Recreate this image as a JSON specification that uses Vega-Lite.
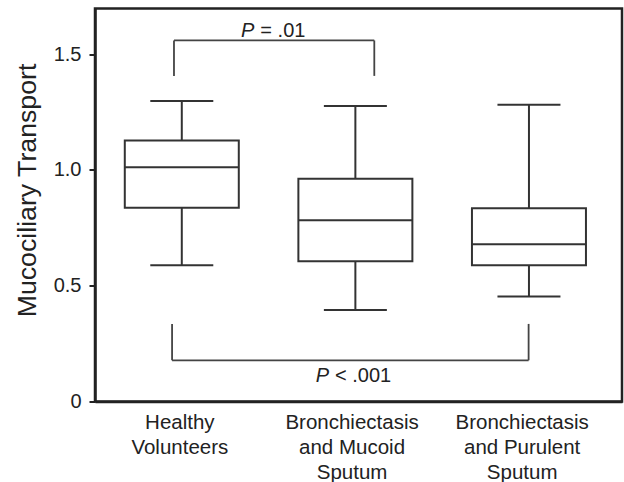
{
  "$schema": "https://vega.github.io/schema/vega-lite/v6.json",
  "width": 527,
  "height": 393,
  "autosize": "none",
  "padding": {"left": 95, "top": 8.5, "right": 2, "bottom": 80.5},
  "background": "white",
  "config": {
    "font": "Liberation Sans",
    "view": {"stroke": "#222", "strokeWidth": 2.5}
  },
  "datasets": {
    "boxes": [
      {"pos": 1, "group": "Healthy Volunteers", "lo": 0.588, "q1": 0.837, "med": 1.012, "q3": 1.127, "hi": 1.298},
      {"pos": 2, "group": "Bronchiectasis and Mucoid Sputum", "lo": 0.395, "q1": 0.606, "med": 0.783, "q3": 0.962, "hi": 1.276},
      {"pos": 3, "group": "Bronchiectasis and Purulent Sputum", "lo": 0.453, "q1": 0.588, "med": 0.679, "q3": 0.835, "hi": 1.281}
    ],
    "brackets": [
      {"x": 0.955, "x2": 0.955, "y": 1.406, "y2": 1.559},
      {"x": 2.109, "x2": 2.109, "y": 1.406, "y2": 1.559},
      {"x": 0.955, "x2": 2.109, "y": 1.559, "y2": 1.559},
      {"x": 0.944, "x2": 0.944, "y": 0.178, "y2": 0.335},
      {"x": 2.998, "x2": 2.998, "y": 0.178, "y2": 0.335},
      {"x": 0.944, "x2": 2.998, "y": 0.178, "y2": 0.178}
    ],
    "pLabels": [
      {"x": 1.418, "y": 1.576, "t": "P"},
      {"x": 1.848, "y": 0.086, "t": "P"}
    ],
    "restLabels": [
      {"x": 1.418, "y": 1.576, "t": "= .01"},
      {"x": 1.848, "y": 0.086, "t": "< .001"}
    ]
  },
  "layer": [
    {
      "data": {"name": "boxes"},
      "mark": {"type": "rule", "color": "#333", "strokeWidth": 2},
      "encoding": {
        "x": {
          "field": "pos", "type": "quantitative",
          "scale": {"domain": [0.5, 3.536], "nice": false, "zero": false},
          "axis": {
            "title": null,
            "values": [0.986, 1.978, 2.958],
            "labelExpr": "datum.value < 1.5 ? ['Healthy', 'Volunteers'] : datum.value < 2.5 ? ['Bronchiectasis', 'and Mucoid', 'Sputum'] : ['Bronchiectasis', 'and Purulent', 'Sputum']",
            "ticks": false,
            "grid": false,
            "domainColor": "#222",
            "domainWidth": 2.5,
            "labelFontSize": 20.5,
            "labelLineHeight": 25,
            "labelColor": "#222",
            "labelPadding": 11,
            "labelFlush": false,
            "labelOverlap": false,
            "labelAlign": "center"
          }
        },
        "y": {
          "field": "lo", "type": "quantitative",
          "scale": {"domain": [0, 1.697], "nice": false},
          "axis": {
            "title": "Mucociliary Transport",
            "values": [0, 0.5, 1.0, 1.5],
            "labelExpr": "datum.value == 0 ? '0' : format(datum.value, '.1f')",
            "grid": false,
            "domainColor": "#222",
            "domainWidth": 2.5,
            "tickColor": "#222",
            "tickWidth": 2,
            "tickSize": 6,
            "labelFontSize": 20,
            "labelColor": "#222",
            "labelPadding": 8,
            "titleFontSize": 26.7,
            "titleFontWeight": "normal",
            "titleColor": "#222",
            "titleAngle": -90,
            "titleAlign": "center",
            "titleBaseline": "alphabetic",
            "titleX": -60,
            "titleY": 181.5
          }
        },
        "y2": {"field": "q1"}
      }
    },
    {
      "data": {"name": "boxes"},
      "mark": {"type": "rule", "color": "#333", "strokeWidth": 2},
      "encoding": {
        "x": {"field": "pos", "type": "quantitative"},
        "y": {"field": "q3", "type": "quantitative"},
        "y2": {"field": "hi"}
      }
    },
    {
      "data": {"name": "boxes"},
      "mark": {"type": "rule", "color": "#333", "strokeWidth": 2, "xOffset": -31.5, "x2Offset": 31.5},
      "encoding": {
        "x": {"field": "pos", "type": "quantitative"},
        "x2": {"field": "pos"},
        "y": {"field": "lo", "type": "quantitative"}
      }
    },
    {
      "data": {"name": "boxes"},
      "mark": {"type": "rule", "color": "#333", "strokeWidth": 2, "xOffset": -31.5, "x2Offset": 31.5},
      "encoding": {
        "x": {"field": "pos", "type": "quantitative"},
        "x2": {"field": "pos"},
        "y": {"field": "hi", "type": "quantitative"}
      }
    },
    {
      "data": {"name": "boxes"},
      "mark": {"type": "rect", "fill": "white", "stroke": "#333", "strokeWidth": 2, "xOffset": -57, "x2Offset": 57},
      "encoding": {
        "x": {"field": "pos", "type": "quantitative"},
        "x2": {"field": "pos"},
        "y": {"field": "q1", "type": "quantitative"},
        "y2": {"field": "q3"}
      }
    },
    {
      "data": {"name": "boxes"},
      "mark": {"type": "rule", "color": "#333", "strokeWidth": 2, "xOffset": -57, "x2Offset": 57},
      "encoding": {
        "x": {"field": "pos", "type": "quantitative"},
        "x2": {"field": "pos"},
        "y": {"field": "med", "type": "quantitative"}
      }
    },
    {
      "data": {"name": "brackets"},
      "mark": {"type": "rule", "color": "#444", "strokeWidth": 1.8},
      "encoding": {
        "x": {"field": "x", "type": "quantitative"},
        "x2": {"field": "x2"},
        "y": {"field": "y", "type": "quantitative"},
        "y2": {"field": "y2"}
      }
    },
    {
      "data": {"name": "pLabels"},
      "mark": {"type": "text", "fontSize": 20, "fontStyle": "italic", "color": "#222", "align": "right", "baseline": "alphabetic", "dx": 0},
      "encoding": {
        "x": {"field": "x", "type": "quantitative"},
        "y": {"field": "y", "type": "quantitative"},
        "text": {"field": "t"}
      }
    },
    {
      "data": {"name": "restLabels"},
      "mark": {"type": "text", "fontSize": 20, "color": "#222", "align": "left", "baseline": "alphabetic", "dx": 6},
      "encoding": {
        "x": {"field": "x", "type": "quantitative"},
        "y": {"field": "y", "type": "quantitative"},
        "text": {"field": "t"}
      }
    }
  ]
}
